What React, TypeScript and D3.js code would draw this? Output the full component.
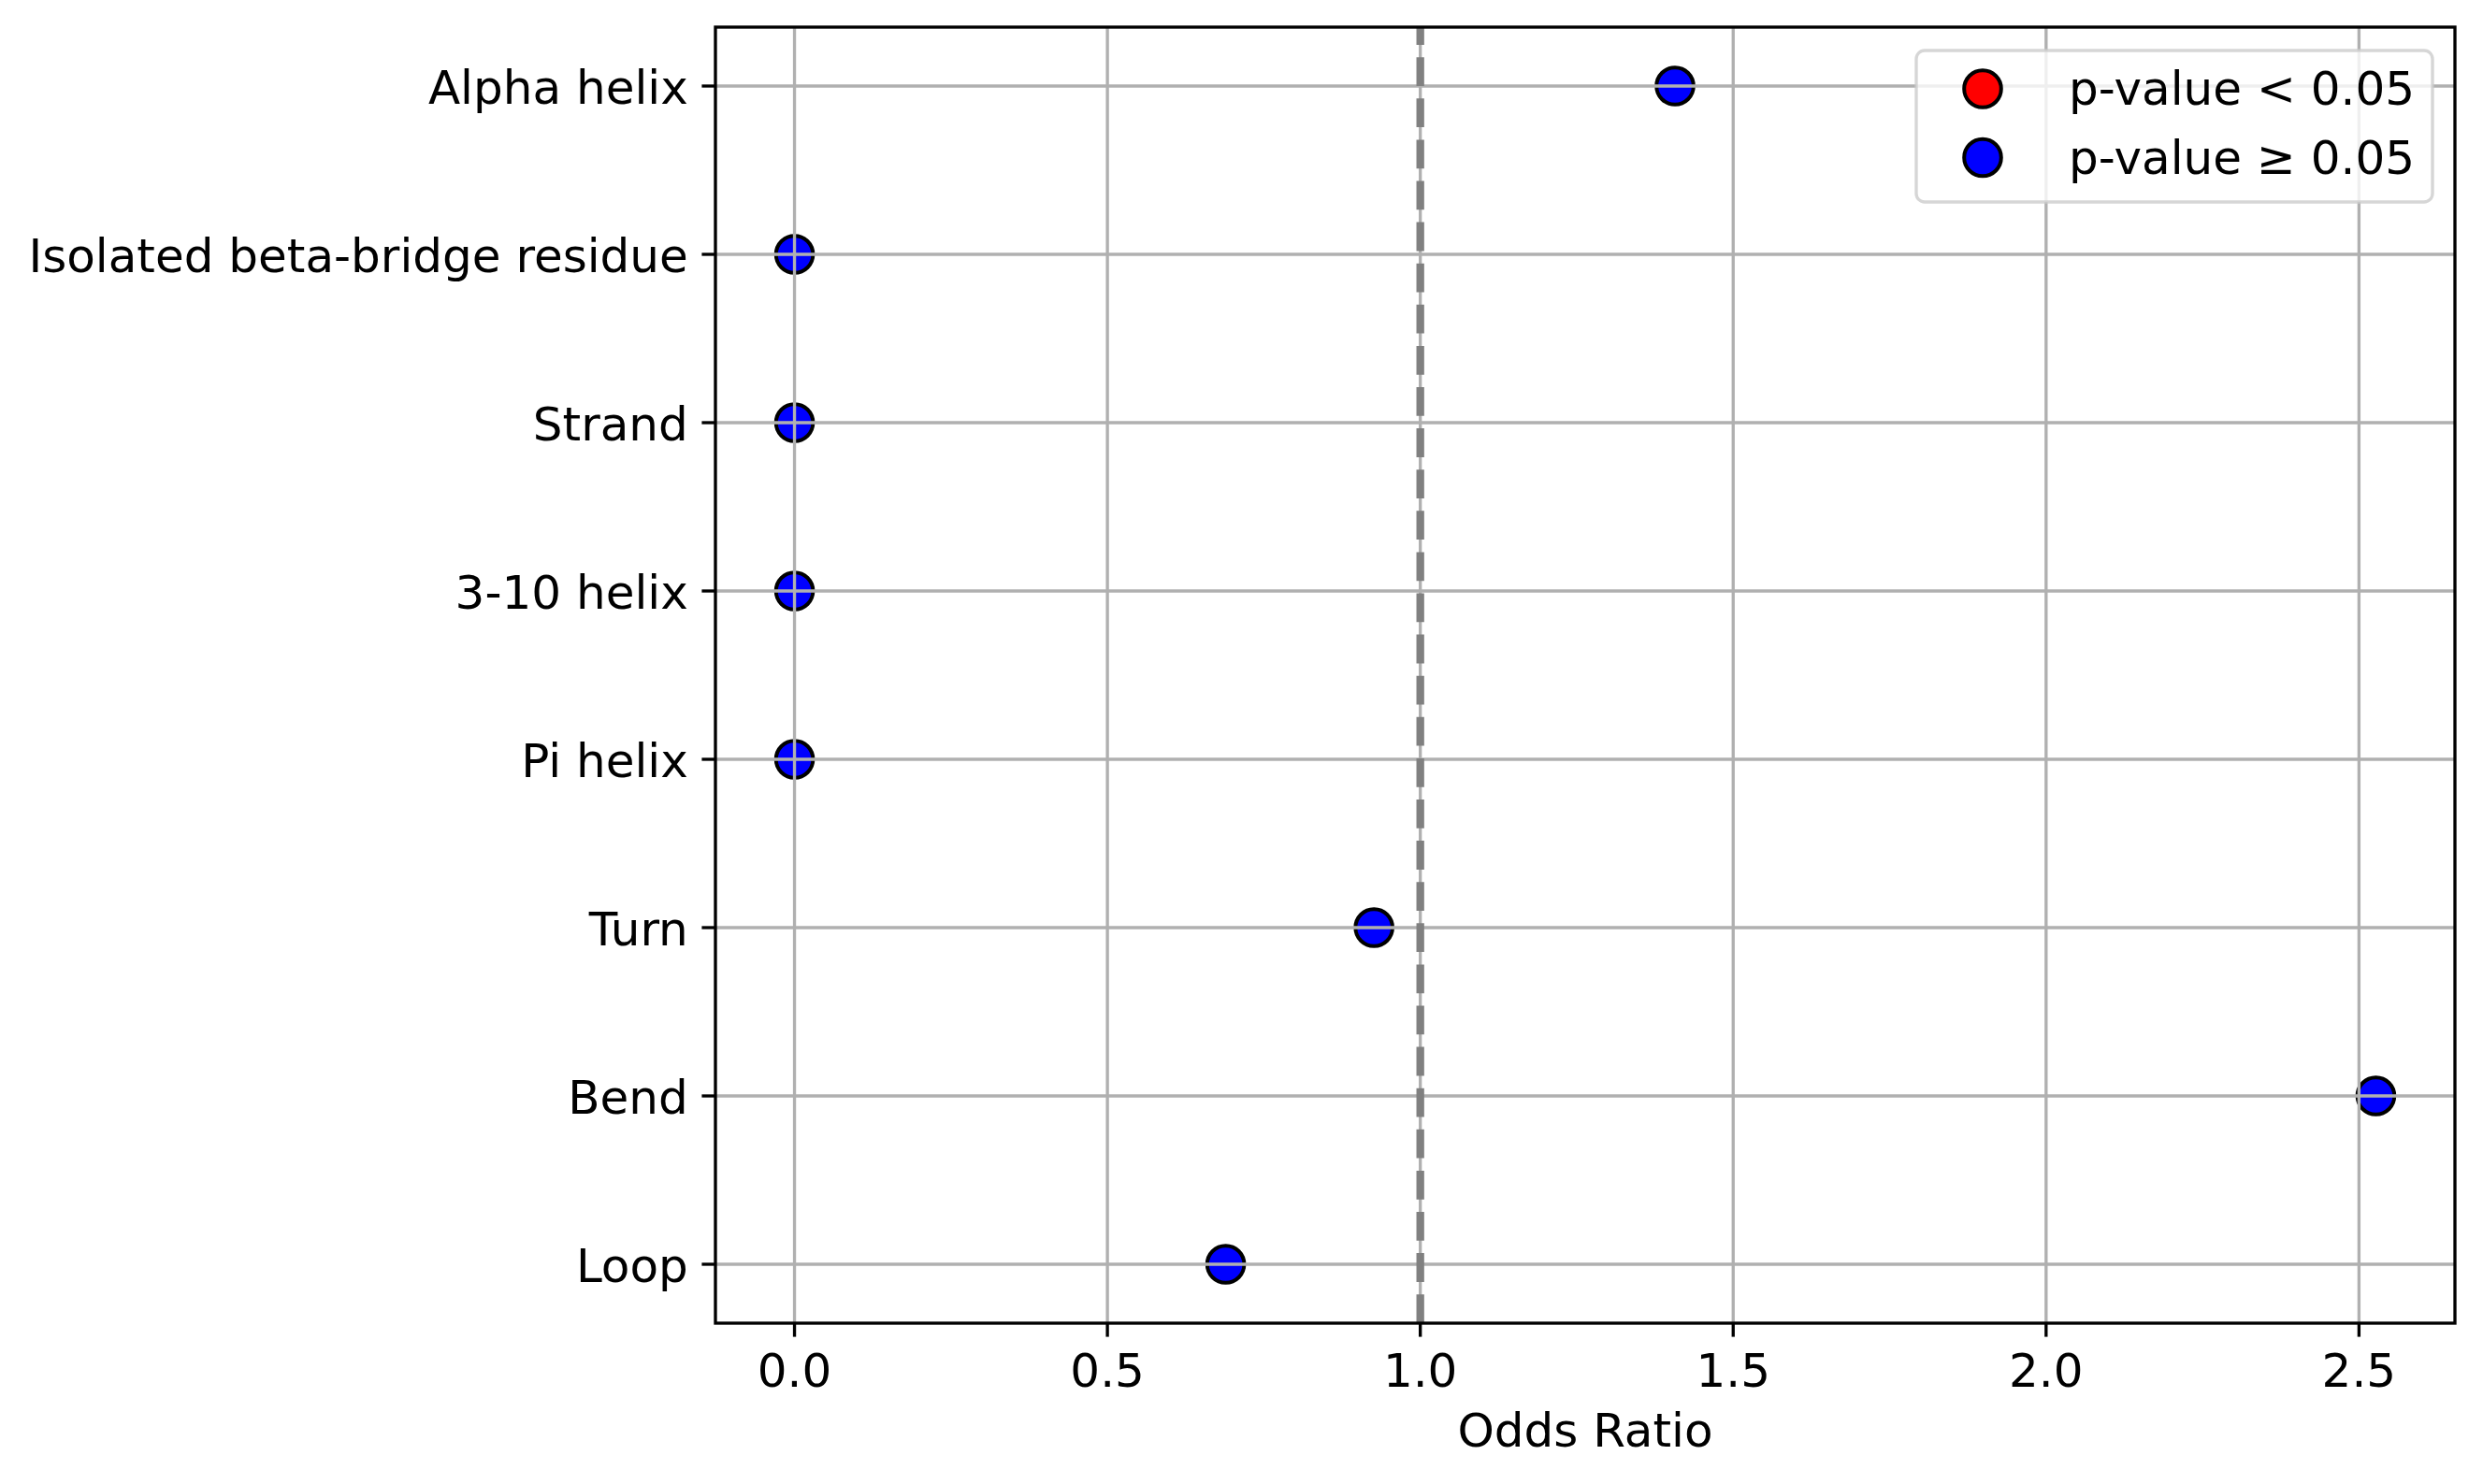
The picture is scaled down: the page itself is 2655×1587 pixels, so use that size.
import * as d3 from "d3";

const categories = [
  "Alpha helix",
  "Isolated beta-bridge residue",
  "Strand",
  "3-10 helix",
  "Pi helix",
  "Turn",
  "Bend",
  "Loop",
];
const oddsRatios = [1.407, 0, 0, 0, 0, 0.926, 2.527, 0.689];
const significant = [false, false, false, false, false, false, false, false];
const xTicks = [0, 0.5, 1, 1.5, 2, 2.5];
const legendItems = [
  { label: "p-value < 0.05", color: "#ff0000" },
  { label: "p-value \u2265 0.05", color: "#0000ff" },
];
const referenceLine = 1;

const W = 2655;
const H = 1587;
const plot = { left: 765, right: 2625, top: 29, bottom: 1415 };
const font = "'DejaVu Sans', sans-serif";
const fs = 50;
const lw = 3.33;
const tickLen = 14.6;
const gridColor = "#b0b0b0";

const App = () => {
  const [lo, hi] = d3.extent(oddsRatios) as [number, number];
  const pad = (hi - lo) * 0.05;
  const x = d3.scaleLinear().domain([lo - pad, hi + pad]).range([plot.left, plot.right]);
  const y = d3.scalePoint<string>().domain(categories).range([plot.top, plot.bottom]).padding(0.35);

  const legend = { x: 2049, y: 54, w: 552, h: 162 };

  return (
    <svg
      width={W}
      height={H}
      viewBox={`0 0 ${W} ${H}`}
      style={{ position: "absolute", left: 0, top: 0, background: "#fff" }}
      fontFamily={font}
    >
      <rect x={0} y={0} width={W} height={H} fill="#fff" />

      {/* points */}
      {categories.map((c, i) => (
        <circle
          key={c}
          cx={x(oddsRatios[i])}
          cy={y(c)}
          r={19.8}
          fill={significant[i] ? legendItems[0].color : legendItems[1].color}
          stroke="#000"
          strokeWidth={4}
        />
      ))}

      {/* grid */}
      {xTicks.map((t) => (
        <line key={`gx${t}`} x1={x(t)} x2={x(t)} y1={plot.top} y2={plot.bottom} stroke={gridColor} strokeWidth={lw} />
      ))}
      {categories.map((c) => (
        <line key={`gy${c}`} x1={plot.left} x2={plot.right} y1={y(c)} y2={y(c)} stroke={gridColor} strokeWidth={lw} />
      ))}

      {/* reference line */}
      <line
        x1={x(referenceLine)}
        x2={x(referenceLine)}
        y1={plot.bottom}
        y2={plot.top}
        stroke="#808080"
        strokeWidth={8.3}
        strokeDasharray="30.8 13.3"
      />

      {/* spines */}
      <rect
        x={plot.left}
        y={plot.top}
        width={plot.right - plot.left}
        height={plot.bottom - plot.top}
        fill="none"
        stroke="#000"
        strokeWidth={lw}
        strokeLinecap="square"
      />

      {/* x axis */}
      {xTicks.map((t) => (
        <g key={`xt${t}`}>
          <line x1={x(t)} x2={x(t)} y1={plot.bottom} y2={plot.bottom + tickLen} stroke="#000" strokeWidth={lw} />
          <text x={x(t)} y={1483} textAnchor="middle" fontSize={fs} fill="#000">
            {d3.format(".1f")(t)}
          </text>
        </g>
      ))}
      <text x={(plot.left + plot.right) / 2} y={1547} textAnchor="middle" fontSize={fs} fill="#000">
        Odds Ratio
      </text>

      {/* y axis */}
      {categories.map((c) => (
        <g key={`yt${c}`}>
          <line x1={plot.left - tickLen} x2={plot.left} y1={y(c)} y2={y(c)} stroke="#000" strokeWidth={lw} />
          <text x={plot.left - tickLen * 2} y={(y(c) ?? 0) + 19} textAnchor="end" fontSize={fs} fill="#000">
            {c}
          </text>
        </g>
      ))}

      {/* legend */}
      <rect
        x={legend.x}
        y={legend.y}
        width={legend.w}
        height={legend.h}
        rx={9}
        fill="#fff"
        fillOpacity={0.8}
        stroke="#cccccc"
        strokeOpacity={0.8}
        strokeWidth={lw}
      />
      {legendItems.map((d, i) => (
        <g key={d.label}>
          <circle cx={2120} cy={95 + i * 73.5} r={19.8} fill={d.color} stroke="#000" strokeWidth={4} />
          <text x={2212} y={112 + i * 73.5} fontSize={fs} fill="#000">
            {d.label}
          </text>
        </g>
      ))}
    </svg>
  );
};

export default App;
